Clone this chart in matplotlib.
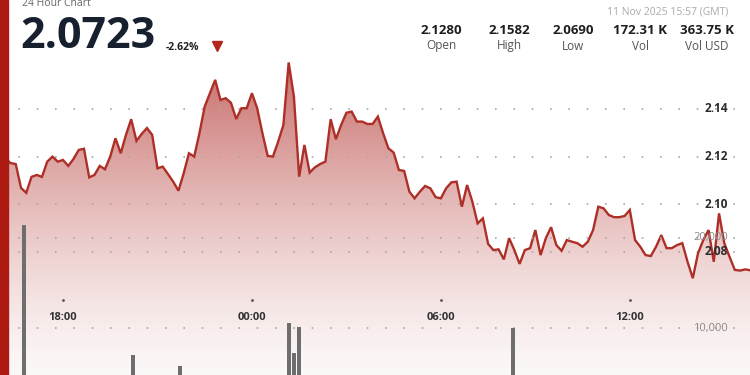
import numpy as np
import pandas as pd
import matplotlib
matplotlib.use('Agg')
import matplotlib.pyplot as plt
import matplotlib.dates as mdates
from matplotlib.patches import Polygon, Rectangle
from matplotlib.lines import Line2D
from matplotlib.transforms import blended_transform_factory

plt.rcParams['font.family'] = ['Open Sans', 'DejaVu Sans']

# header values
title = '24 Hour Chart'
last_price = '2.0723'
change = '-2.62%'
stamp = '11 Nov 2025 15:57 (GMT)'
stat_labels = ['Open', 'High', 'Low', 'Vol', 'Vol USD']
stat_values = ['2.1280', '2.1582', '2.0690', '172.31 K', '363.75 K']

# price every 10 minutes
start = '2025-11-10 16:10'
prices = [
    2.1193, 2.1173, 2.1169, 2.1069, 2.1048, 2.1115, 2.1123, 2.1115, 2.1179, 2.1200,
    2.1179, 2.1186, 2.1161, 2.1190, 2.1228, 2.1233, 2.1113, 2.1123, 2.1161, 2.1147,
    2.1200, 2.1277, 2.1214, 2.1291, 2.1357, 2.1266, 2.1295, 2.1320, 2.1291, 2.1151,
    2.1158, 2.1127, 2.1095, 2.1057, 2.1130, 2.1214, 2.1200,
    2.1298, 2.1410, 2.1466, 2.1522, 2.1438, 2.1445, 2.1426, 2.1358, 2.1403, 2.1403,
    2.1466, 2.1403, 2.1298, 2.1203, 2.1200, 2.1263, 2.1333, 2.1595, 2.1452, 2.1116,
    2.1249, 2.1133, 2.1155, 2.1169, 2.1179, 2.1357, 2.1273, 2.1333, 2.1384, 2.1389,
    2.1347, 2.1347, 2.1337, 2.1337, 2.1368,
    2.1298, 2.1235, 2.1217, 2.1144, 2.1140, 2.1053, 2.1025, 2.1053, 2.1077, 2.1067,
    2.1030, 2.1025, 2.1067, 2.1092, 2.1095, 2.0990, 2.1081, 2.1011, 2.0920, 2.0941,
    2.0834, 2.0808, 2.0811, 2.0769, 2.0858, 2.0808, 2.0750, 2.0808, 2.0816, 2.0892,
    2.0787, 2.0858, 2.0904, 2.0829, 2.0805,
    2.0850, 2.0843, 2.0837, 2.0822, 2.0843, 2.0892, 2.0990, 2.0983, 2.0955, 2.0946,
    2.0946, 2.0951, 2.0976, 2.0850, 2.0822, 2.0787, 2.0783, 2.0822, 2.0871, 2.0816,
    2.0816, 2.0829, 2.0837, 2.0759, 2.0690, 2.0795, 2.0850, 2.0892, 2.0759, 2.0962,
    2.0837, 2.0780, 2.0725, 2.0722, 2.0727, 2.0723,
]

vol_times = ['2025-11-10 16:46', '2025-11-10 20:13', '2025-11-10 21:43',
             '2025-11-11 01:10', '2025-11-11 01:20', '2025-11-11 01:30',
             '2025-11-11 08:17']
volumes = [21400, 7000, 5800, 10600, 7250, 10150, 10030]

price_ticks = [2.08, 2.10, 2.12, 2.14]
vol_ticks = [10000, 20000]
time_ticks = pd.date_range('2025-11-10 18:00', '2025-11-11 12:00', freq='6h')

W, H = 750, 375


def fx(px):
    return px / W


def fy(py):
    return 1 - py / H


times = pd.date_range(start, periods=len(prices), freq='10min')
x = mdates.date2num(times)
p = np.array(prices)

fig = plt.figure(figsize=(7.5, 3.75), dpi=100)
ax = fig.add_axes([0, 0, 1, 1])
ax2 = ax.twinx()

x0 = mdates.date2num(pd.Timestamp('2025-11-10 16:00'))
x1 = mdates.date2num(pd.Timestamp('2025-11-11 15:49'))
ymin, ymax = 2.0284, 2.1857
ax.set_xlim(x0, x1)
ax.set_ylim(ymin, ymax)
ax2.set_ylim(4778, 46444)

for a in (ax, ax2):
    a.axis('off')

# gradient fill under the line
rows = np.arange(H)
alpha = 0.035 + 0.67 * np.clip((H - rows) / 317.0, 0, 1) ** 1.35
grad = np.zeros((H, 1, 4))
grad[:, 0, 0] = 175 / 255
grad[:, 0, 1] = 45 / 255
grad[:, 0, 2] = 40 / 255
grad[:, 0, 3] = alpha
im = ax.imshow(grad, extent=[x0, x1, ymin, ymax], aspect='auto',
               origin='upper', zorder=1)
verts = [(x[0], ymin)] + list(zip(x, p)) + [(x[-1], ymin)]
clip = Polygon(verts, closed=True, transform=ax.transData)
im.set_clip_path(clip)
ax.set_xlim(x0, x1)
ax.set_ylim(ymin, ymax)

ax.plot(x, p, color='#ad2f27', lw=1.7, zorder=3, solid_joinstyle='miter')

# grid lines and labels
grid_style = dict(color='#a8a8a8', lw=1.2, linestyle=(0, (1, 10)), zorder=2)
for v in price_ticks:
    ax.axhline(v, **grid_style)
    ax.text(fx(728), v, f'{v:.2f}', transform=blended_transform_factory(ax.transAxes, ax.transData),
            ha='right', va='center', fontsize=8.5, fontweight='bold', color='#2a2a2a', zorder=5)
for v in vol_ticks:
    ax2.axhline(v, **grid_style)
    ax2.text(fx(728), v, f'{v:,}', transform=blended_transform_factory(ax2.transAxes, ax2.transData),
             ha='right', va='center', fontsize=8, color='#8a8a8a', zorder=5)

# volume bars
vx = mdates.date2num(pd.to_datetime(vol_times))
ax2.bar(vx, volumes, width=8 / 1440, color='#6e6e6e', zorder=3)

# time labels
tt = blended_transform_factory(ax.transData, fig.transFigure)
for t in time_ticks:
    tx = mdates.date2num(t)
    ax.plot([tx], [fy(300)], marker='.', ms=2, color='#555555', transform=tt)
    ax.text(tx, fy(318), t.strftime('%H:%M'), transform=tt, ha='center', va='center',
            fontsize=8, fontweight='bold', color='#333333')

# red left bar
fig.add_artist(Rectangle((0, 0), fx(8), 1, transform=fig.transFigure,
                         color='#ad1a12', zorder=10))

# header
fig.text(fx(22), fy(4), title, fontsize=7.5, color='#666666', va='center')
fig.text(fx(20), fy(36), last_price, fontsize=31, fontweight='bold', color='#17202e', va='center')
fig.text(fx(166), fy(47), change, fontsize=7.5, fontweight='bold', color='#222222', va='center')
fig.add_artist(Line2D([fx(217)], [fy(46)], marker='v', ms=7, color='#b3261e',
                      transform=fig.transFigure))
fig.text(fx(728), fy(12), stamp, ha='right', va='center', fontsize=7.5, color='#aaaaaa')
centers = [441, 509, 573, 640, 707]
for cx, val, lab in zip(centers, stat_values, stat_labels):
    fig.text(fx(cx), fy(30), val, ha='center', va='center', fontsize=9.5,
             fontweight='bold', color='#1e1e1e')
    fig.text(fx(cx), fy(46), lab, ha='center', va='center', fontsize=8.5, color='#555555')

fig.savefig('out.png', dpi=100)
